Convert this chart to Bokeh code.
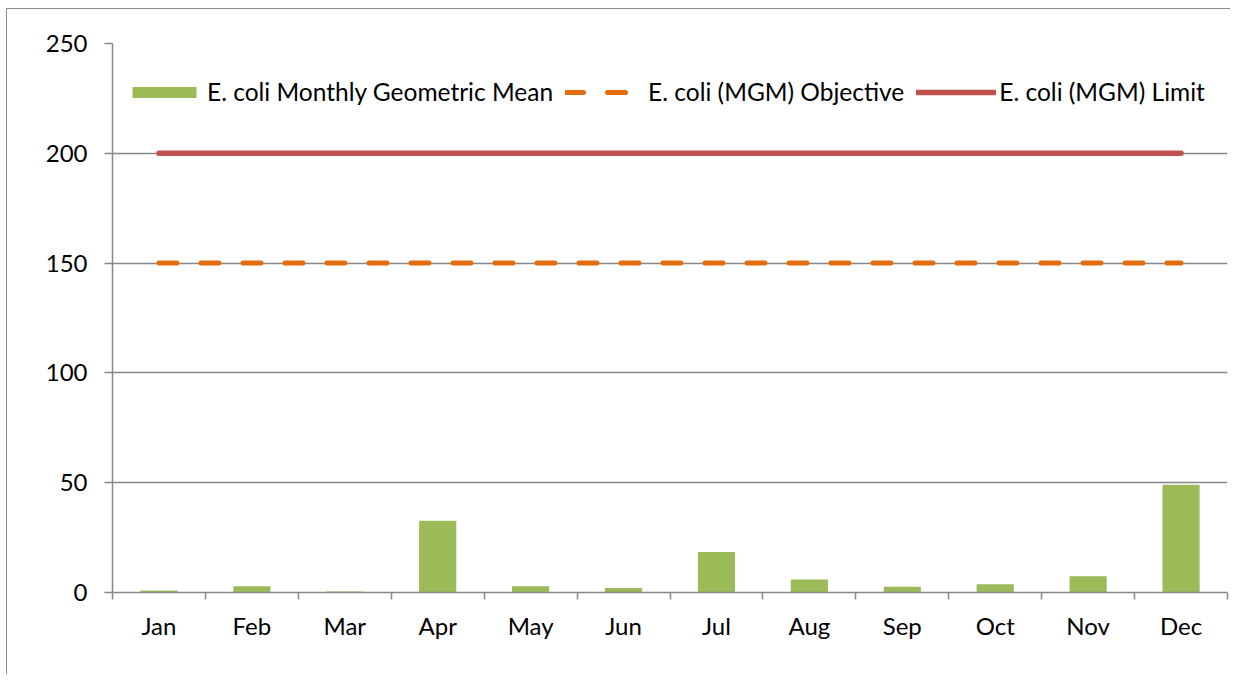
from bokeh.plotting import figure
from bokeh.models import Range1d, FixedTicker, Legend, LegendItem
from bokeh.embed import file_html
from bokeh.resources import INLINE
import numpy as np

months = ["Jan", "Feb", "Mar", "Apr", "May", "Jun", "Jul", "Aug", "Sep", "Oct", "Nov", "Dec"]
mgm = [0.9, 2.8, 0.5, 32.7, 2.8, 2.1, 18.4, 5.9, 2.6, 3.7, 7.4, 49.1]
objective = [150] * 12
limit = [200] * 12
y_ticks = [0, 50, 100, 150, 200, 250]

FONT = "Lato"
FSIZE = "24px"
LSIZE = "24.5px"
GRAY = "#878787"

x = np.arange(len(months)) + 0.5

p = figure(width=1224, height=666, output_backend="svg", toolbar_location=None,
           x_range=Range1d(0, len(months)), y_range=Range1d(0, 250),
           min_border_left=105, min_border_top=34, min_border_bottom=83, min_border_right=4)
p.styles = {"margin-left": "6px", "margin-top": "8px",
            "border-left": "1px solid #8c8c8c", "border-top": "1px solid #8c8c8c"}
p.outline_line_color = None

bars = p.vbar(x=x, top=mgm, width=0.4, bottom=0, fill_color="#9BBB59", line_color=None)
obj = p.line(x=x, y=objective, line_color="#E46C0A", line_width=5, line_dash="18 24",
             line_cap="round")
lim = p.line(x=x, y=limit, line_color="#C0504D", line_width=5.5, line_cap="round")

# axes
p.xgrid.visible = False
p.ygrid.grid_line_color = GRAY
p.ygrid.grid_line_width = 1.5
p.ygrid.ticker = FixedTicker(ticks=y_ticks)
p.ygrid.level = "underlay"

p.yaxis.ticker = FixedTicker(ticks=y_ticks)
p.yaxis.axis_line_color = GRAY
p.yaxis.axis_line_width = 1.5
p.yaxis.major_tick_line_color = GRAY
p.yaxis.major_tick_line_width = 1.5
p.yaxis.major_tick_out = 8
p.yaxis.major_tick_in = 0
p.yaxis.minor_tick_line_color = None
p.yaxis.major_label_standoff = 17
p.yaxis.major_label_text_font = FONT
p.yaxis.major_label_text_font_size = FSIZE
p.yaxis.major_label_text_color = "black"

p.xaxis.ticker = FixedTicker(ticks=list(x), minor_ticks=list(range(len(months) + 1)))
p.xaxis.major_label_overrides = {float(xi): m for xi, m in zip(x, months)}
p.xaxis.axis_line_color = GRAY
p.xaxis.axis_line_width = 1.5
p.xaxis.major_tick_line_color = None
p.xaxis.minor_tick_line_color = GRAY
p.xaxis.minor_tick_line_width = 1.5
p.xaxis.minor_tick_out = 7
p.xaxis.minor_tick_in = 0
p.xaxis.major_label_standoff = 11
p.xaxis.major_label_text_font = FONT
p.xaxis.major_label_text_font_size = FSIZE
p.xaxis.major_label_text_color = "black"

legend = Legend(items=[
    LegendItem(label="E. coli Monthly Geometric Mean", renderers=[bars]),
    LegendItem(label="E. coli (MGM) Objective", renderers=[obj]),
    LegendItem(label="E. coli (MGM) Limit", renderers=[lim]),
], orientation="horizontal", location=(12, 549 - 48 - 15), padding=0, margin=0,
    spacing=12, label_standoff=3, glyph_width=80, glyph_height=14,
    label_text_font=FONT, label_text_font_size=LSIZE, label_text_color="black",
    background_fill_alpha=0, border_line_alpha=0)
p.add_layout(legend, "center")

open("out.html", "w").write(file_html(p, INLINE))
